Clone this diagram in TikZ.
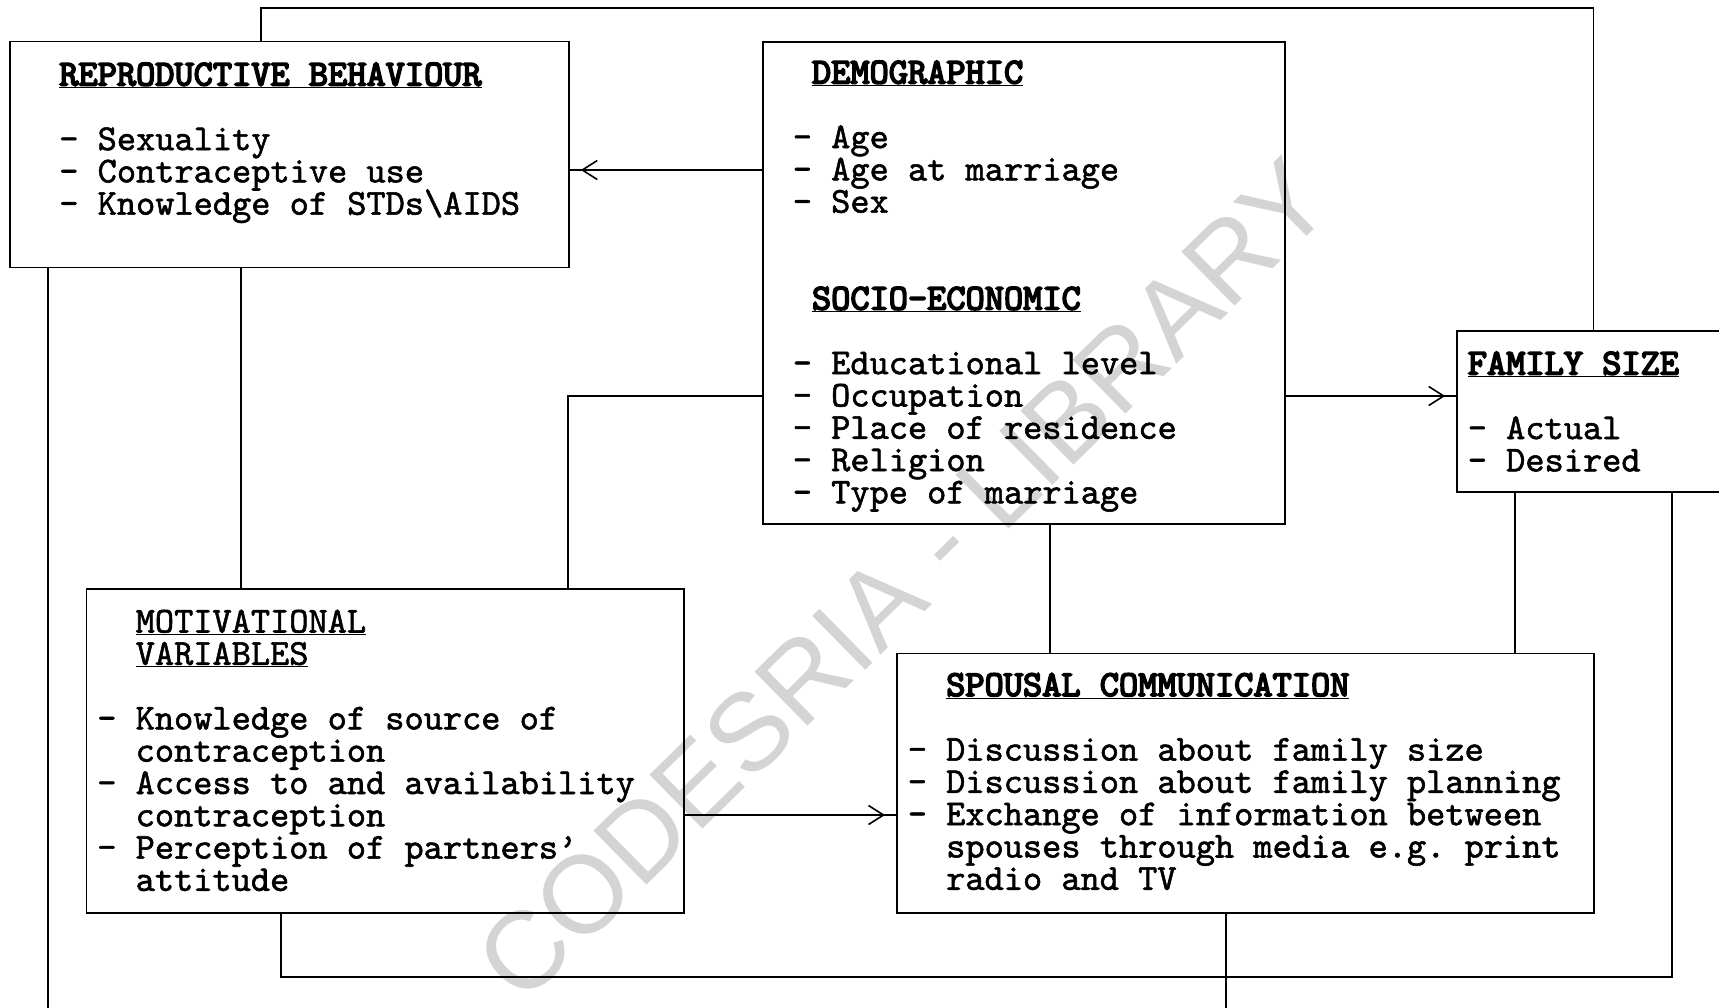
\documentclass[tikz,border=0pt]{standalone}
\usepackage{fontspec}
\newfontfamily\wmfont{Liberation Sans}
\newfontfamily\refmono[Extension=.otf, FakeBold=1.5]{lmmono10-regular}
\newfontfamily\refmonob[Extension=.otf, FakeBold=4.5]{lmmono10-regular}
\usetikzlibrary{arrows.meta,decorations.markings}
\newcommand\myhd[1]{\underline{\refmonob #1}}
\newcommand\myul[1]{\underline{#1}}
\begin{document}
\begin{tikzpicture}[x=1pt,y=-1pt, line width=1.6pt,
  box/.style={draw, rectangle, inner sep=0pt},
  txt/.style={inner sep=0pt, anchor=base west, font=\refmono\fontsize{36.57}{32.3}\selectfont\frenchspacing},
  arr/.style={postaction={decorate}, decoration={markings, mark=at position -11pt with {\arrow{Straight Barb[length=15pt,width=19pt]}}}}]
\useasboundingbox (0,0) rectangle (1719,1008);
\fill[white] (0,0) rectangle (1719,1008);
\clip (0,0) rectangle (1719,1008);

% watermark
\node[rotate=44.5, text=black!17, font=\wmfont\fontsize{110}{110}\selectfont, inner sep=0pt] (wm) at (903,580) {CODESRIA - LIBRARY};

% boxes
\node[box, minimum width=559pt, minimum height=226pt] (rep) at (289.5,154.6) {};
\node[box, minimum width=522pt, minimum height=482.3pt] (dem) at (1024,282.9) {};
\node[box, minimum width=273pt, minimum height=161pt] (fam) at (1593.5,411.5) {};
\node[box, minimum width=597.4pt, minimum height=324.3pt] (mot) at (385.3,750.9) {};
\node[box, minimum width=697.2pt, minimum height=259.6pt] (spo) at (1245.4,783.2) {};

% texts
\foreach \r/\c/\t [count=\i] in {0/0/{\myhd{REPRODUCTIVE BEHAVIOUR}}, 2/0/{- Sexuality}, 3/0/{- Contraceptive use}, 4/0/{- Knowledge of STDs\textbackslash AIDS}}
  \node[txt] (rep-\i) at (58.5+\c*19.2, 85.5+\r*32.3) {\t};
\foreach \r/\c/\t [count=\i] in {0/1/{\myhd{DEMOGRAPHIC}}, 2/0/{- Age}, 3/0/{- Age at marriage}, 4/0/{- Sex}, 7/1/{\myhd{SOCIO-ECONOMIC}}, 9/0/{- Educational level}, 10/0/{- Occupation}, 11/0/{- Place of residence}, 12/0/{- Religion}, 13/0/{- Type of marriage}}
  \node[txt] (dem-\i) at (792+\c*19.2, 83.5+\r*32.3) {\t};
\foreach \r/\c/\t [count=\i] in {0/0/{\myhd{FAMILY SIZE}}, 2/0/{- Actual}, 3/0/{- Desired}}
  \node[txt] (fam-\i) at (1467+\c*19.2, 374.5+\r*32.3) {\t};
\foreach \r/\c/\t [count=\i] in {0/2/{\myul{MOTIVATIONAL}}, 1/2/{\myul{VARIABLES}}, 3/0/{- Knowledge of source of}, 4/2/{contraception}, 5/0/{- Access to and availability}, 6/2/{contraception}, 7/0/{- Perception of partners’}, 8/2/{attitude}}
  \node[txt] (mot-\i) at (96.5+\c*19.2, 632.5+\r*32.3) {\t};
\foreach \r/\c/\t [count=\i] in {0/2/{\myhd{SPOUSAL COMMUNICATION}}, 2/0/{- Discussion about family size}, 3/0/{- Discussion about family planning}, 4/0/{- Exchange of information between}, 5/2/{spouses through media e.g. print}, 6/2/{radio and TV}}
  \node[txt] (spo-\i) at (907+\c*19.2, 696+\r*32.3) {\t};

% connectors
\coordinate (k1) at (261,8);
\draw (rep.north -| k1) -- (k1) -| (fam.north);
\coordinate (k2) at (0,170);
\draw[arr] (dem.west |- k2) -- (rep.east |- k2);
\coordinate (k3) at (241,0);
\draw (rep.south -| k3) -- (mot.north -| k3);
\coordinate (k4) at (48,1008);
\draw (rep.south -| k4) -- (k4);
\coordinate (k5) at (568,396);
\draw (mot.north -| k5) -- (k5) -- (dem.west |- k5);
\draw[arr] (dem.east |- k5) -- (fam.west |- k5);
\coordinate (k6) at (1050,0);
\draw (dem.south -| k6) -- (spo.north -| k6);
\coordinate (k7) at (1515,0);
\draw (fam.south -| k7) -- (spo.north -| k7);
\coordinate (k8) at (1672,977);
\coordinate (k9) at (281,977);
\draw (fam.south -| k8) -- (k8) -- (k9) -- (mot.south -| k9);
\coordinate (k10) at (0,815);
\draw[arr] (mot.east |- k10) -- (spo.west |- k10);
\coordinate (k11) at (1226,1008);
\draw (spo.south -| k11) -- (k11);
\end{tikzpicture}
\end{document}
